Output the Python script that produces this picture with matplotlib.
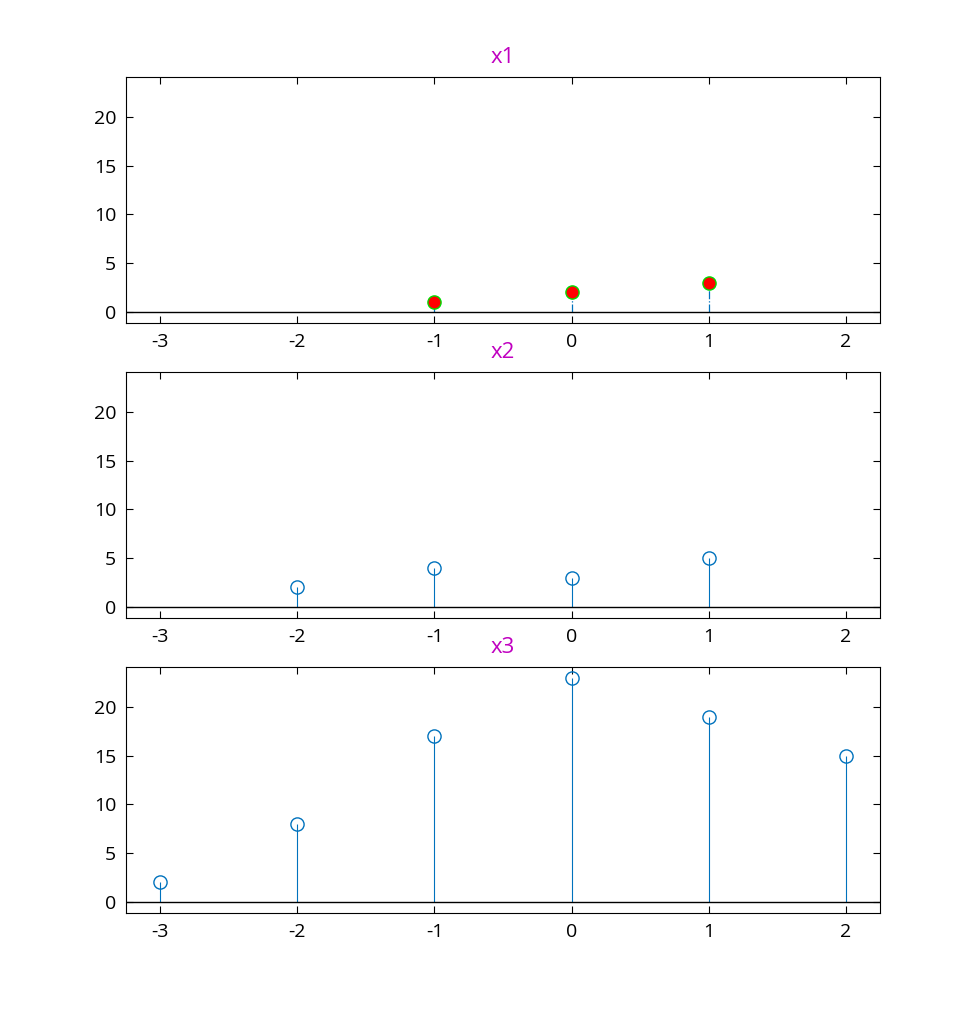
import matplotlib
matplotlib.use("Agg")
import matplotlib.pyplot as plt

plt.rcParams['font.family'] = ['Open Sans', 'DejaVu Sans']
plt.rcParams['axes.unicode_minus'] = False

n1 = [-1, 0, 1]
x1 = [1, 2, 3]
n2 = [-2, -1, 0, 1]
x2 = [2, 4, 3, 5]
n3 = [-3, -2, -1, 0, 1, 2]
x3 = [2, 8, 17, 23, 19, 15]
titles = ['x1', 'x2', 'x3']
xticks = [-3, -2, -1, 0, 1, 2]
yticks = [0, 5, 10, 15, 20]

blue = '#0072BD'

fig = plt.figure(figsize=(9.72, 10.26), dpi=100)
H = 1026.0
W = 972.0
tops = [77, 372, 667]
axes = []
for t in tops:
    ax = fig.add_axes([126 / W, 1 - (t + 246) / H, (880 - 126) / W, 246 / H])
    axes.append(ax)

data = [(n1, x1), (n2, x2), (n3, x3)]
for i, (ax, (n, x)) in enumerate(zip(axes, data)):
    if i == 0:
        ml, sl, bl = ax.stem(n, x, linefmt='-.', basefmt='k-')
        plt.setp(sl, color=blue, linewidth=0.9)
        plt.setp(ml, marker='o', markersize=9.5, markerfacecolor='red',
                 markeredgecolor='#00dd00', markeredgewidth=1.0)
    else:
        ml, sl, bl = ax.stem(n, x, basefmt='k-')
        plt.setp(sl, color=blue, linewidth=0.8)
        plt.setp(ml, marker='o', markersize=9.5, markerfacecolor='none',
                 markeredgecolor=blue, markeredgewidth=1.0)
    plt.setp(bl, color='black', linewidth=1.0)
    bl.set_xdata([-3.25, 2.25])
    ax.set_xlim(-3.25, 2.25)
    ax.set_ylim(-1.13, 24.1)
    ax.set_xticks(xticks)
    ax.set_yticks(yticks)
    ax.tick_params(direction='in', top=True, right=True, length=5,
                   labelsize=14, pad=7)
    for s in ax.spines.values():
        s.set_linewidth(0.8)
    ax.set_title(titles[i], color='#c000c0', fontsize=16, pad=10)

fig.savefig('out.png', dpi=100)
